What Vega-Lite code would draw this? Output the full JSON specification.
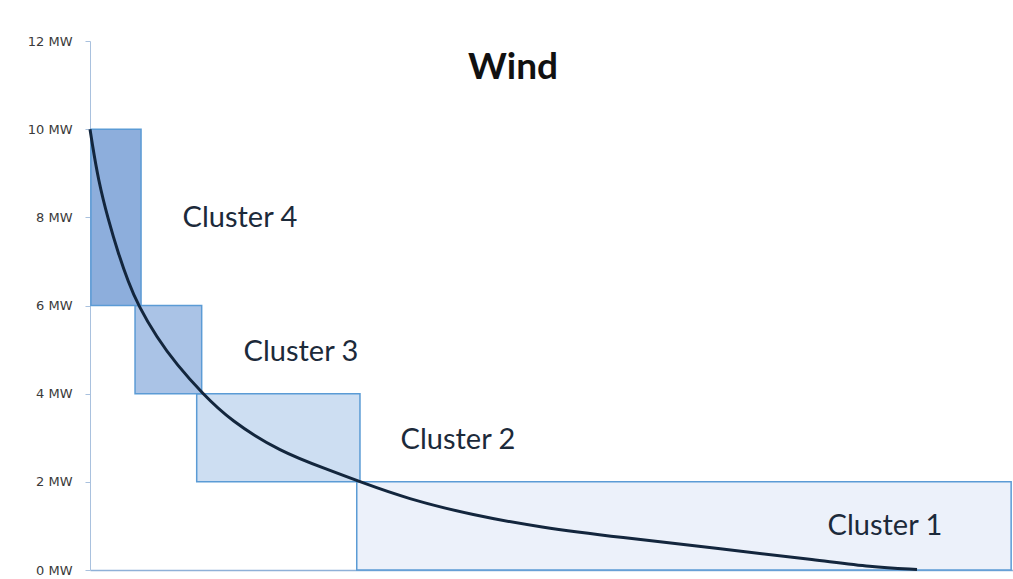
{
  "$schema": "https://vega.github.io/schema/vega-lite/v6.json",
  "width": 923,
  "height": 529,
  "autosize": "none",
  "padding": {"left": 90, "top": 41, "right": 0, "bottom": 9},
  "background": "white",
  "config": {"view": {"stroke": null}},
  "datasets": {
    "clusters": [
      {"cluster": "Cluster 1", "x": 28.9, "x2": 99.8, "y": 0, "y2": 2},
      {"cluster": "Cluster 2", "x": 11.56, "x2": 29.25, "y": 2, "y2": 4},
      {"cluster": "Cluster 3", "x": 4.88, "x2": 12.1, "y": 4, "y2": 6},
      {"cluster": "Cluster 4", "x": 0.1, "x2": 5.53, "y": 6, "y2": 10}
    ],
    "curve": [
      {"t": 0.0, "mw": 10.0},
      {"t": 0.18, "mw": 9.75},
      {"t": 0.9, "mw": 8.84},
      {"t": 1.98, "mw": 7.94},
      {"t": 3.07, "mw": 7.18},
      {"t": 4.15, "mw": 6.53},
      {"t": 5.23, "mw": 6.0},
      {"t": 7.22, "mw": 5.28},
      {"t": 9.39, "mw": 4.66},
      {"t": 12.2, "mw": 4.0},
      {"t": 15.17, "mw": 3.4},
      {"t": 20.58, "mw": 2.68},
      {"t": 26.0, "mw": 2.26},
      {"t": 29.25, "mw": 2.0},
      {"t": 34.31, "mw": 1.62},
      {"t": 41.53, "mw": 1.24},
      {"t": 48.75, "mw": 0.97},
      {"t": 57.4, "mw": 0.74},
      {"t": 68.3, "mw": 0.48},
      {"t": 79.1, "mw": 0.22},
      {"t": 84.5, "mw": 0.07},
      {"t": 89.6, "mw": 0.01}
    ],
    "labels": [
      {"label": "Cluster 4", "x": 16.25, "y": 7.98},
      {"label": "Cluster 3", "x": 22.86, "y": 4.94},
      {"label": "Cluster 2", "x": 39.87, "y": 2.94},
      {"label": "Cluster 1", "x": 86.13, "y": 0.99}
    ],
    "title": [{"label": "Wind", "x": 45.83, "y": 11.39}]
  },
  "layer": [
    {
      "data": {"name": "clusters"},
      "mark": {"type": "rect", "stroke": "#5b9bd5", "strokeWidth": 1.5},
      "encoding": {
        "x": {"field": "x", "type": "quantitative", "scale": {"domain": [0, 100], "nice": false, "zero": false}, "axis": {"title": null, "labels": false, "ticks": false, "grid": false, "domainColor": "#8fb1d8", "domainWidth": 1.5}},
        "x2": {"field": "x2"},
        "y": {"field": "y", "type": "quantitative", "scale": {"domain": [0, 12], "nice": false}, "axis": {"title": null, "values": [0, 2, 4, 6, 8, 10, 12], "labelExpr": "datum.value + ' MW'", "grid": false, "domainColor": "#a9c1de", "tickColor": "#a9c1de", "tickSize": 5, "labelPadding": 13, "labelFont": "DejaVu Sans", "labelFontSize": 13, "labelColor": "#3a3a3a", "labelFontWeight": "normal"}},
        "y2": {"field": "y2"},
        "fill": {"field": "cluster", "type": "nominal", "scale": {"domain": ["Cluster 1", "Cluster 2", "Cluster 3", "Cluster 4"], "range": ["#ecf1fa", "#cddef2", "#aac3e6", "#8daedc"]}, "legend": null}
      }
    },
    {
      "data": {"name": "curve"},
      "mark": {"type": "line", "color": "#13263d", "strokeWidth": 3, "interpolate": "basis"},
      "encoding": {
        "x": {"field": "t", "type": "quantitative"},
        "y": {"field": "mw", "type": "quantitative"}
      }
    },
    {
      "data": {"name": "labels"},
      "mark": {"type": "text", "font": "Lato", "fontSize": 29, "color": "#1c2a3a", "align": "center", "baseline": "middle"},
      "encoding": {
        "x": {"field": "x", "type": "quantitative"},
        "y": {"field": "y", "type": "quantitative"},
        "text": {"field": "label"}
      }
    },
    {
      "data": {"name": "title"},
      "mark": {"type": "text", "font": "Lato", "fontSize": 37, "fontWeight": "bold", "color": "#111111", "align": "center", "baseline": "middle"},
      "encoding": {
        "x": {"field": "x", "type": "quantitative"},
        "y": {"field": "y", "type": "quantitative"},
        "text": {"field": "label"}
      }
    }
  ]
}
